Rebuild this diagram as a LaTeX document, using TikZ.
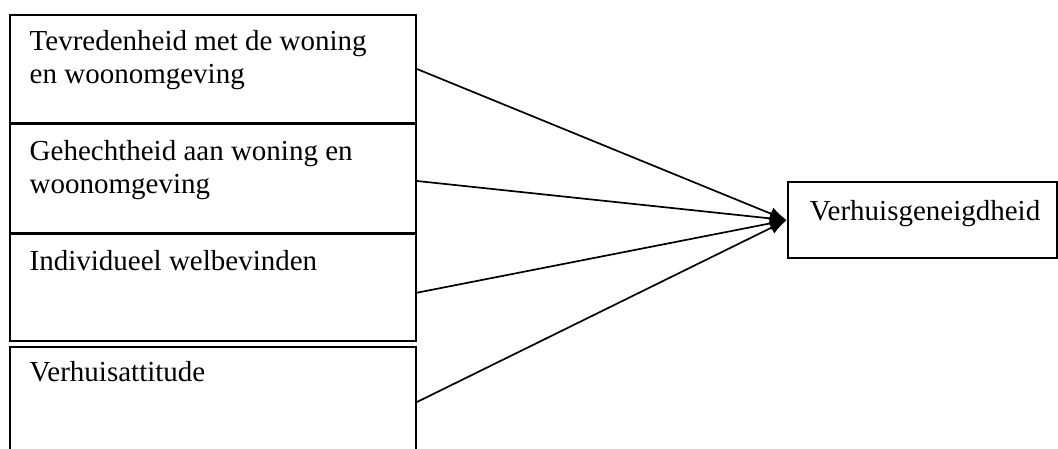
\documentclass[tikz,border=0pt]{standalone}
\usepackage{fontspec}
\setmainfont{Liberation Serif}
\usetikzlibrary{arrows.meta}
\tikzset{
  boxnode/.style={draw, line width=2pt, rectangle, inner sep=0pt, anchor=north west},
  lbl/.style={inner sep=0pt, anchor=base west, align=left, font=\fontsize{29}{33}\selectfont},
  conn/.style={line width=1.7pt, -{Latex[length=17pt,width=13pt]}}
}
\begin{document}
\begin{tikzpicture}[x=1pt,y=-1pt]
\useasboundingbox (0,0) rectangle (1058,448);
\clip (0,0) rectangle (1058,448);
\node[boxnode, minimum width=406pt, minimum height=107.7pt] (b1) at (9,14) {};
\node[boxnode, minimum width=406pt, minimum height=108.4pt] (b2) at (9,123.3) {};
\node[boxnode, minimum width=406pt, minimum height=106.7pt] (b3) at (9,233.3) {};
\node[boxnode, minimum width=406pt, minimum height=130pt] (b4) at (9,346) {};
\node[boxnode, minimum width=269.3pt, minimum height=76.3pt] (r) at (786.7,181) {};

\node[lbl] (t1) at ([xshift=20.5pt,yshift=-69.5pt]b1.north west) {Tevredenheid met de woning\\en woonomgeving};
\node[lbl] (t2) at ([xshift=20.5pt,yshift=-69.7pt]b2.north west) {Gehechtheid aan woning en\\woonomgeving};
\node[lbl] (t3) at ([xshift=20.5pt,yshift=-36.7pt]b3.north west) {Individueel welbevinden};
\node[lbl] (t4) at ([xshift=20.5pt,yshift=-35.7pt]b4.north west) {Verhuisattitude};
\node[lbl] (t5) at ([xshift=23pt,yshift=-39pt]r.north west) {Verhuisgeneigdheid};

\draw[conn] ([yshift=-55pt]b1.north east) -- (r.west);
\draw[conn] ([yshift=-57.7pt]b2.north east) -- (r.west);
\draw[conn] ([yshift=-59.4pt]b3.north east) -- (r.west);
\draw[conn] ([yshift=-56pt]b4.north east) -- (r.west);
\end{tikzpicture}
\end{document}
